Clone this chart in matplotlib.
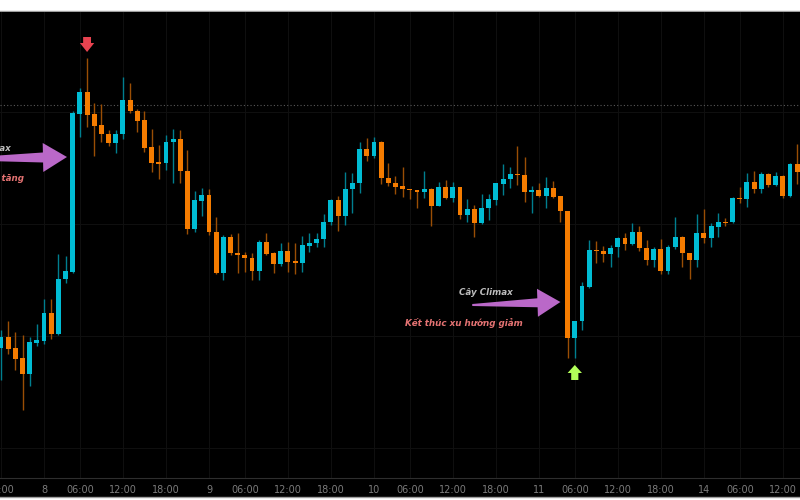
import numpy as np
import matplotlib.pyplot as plt
from matplotlib.patches import Rectangle, Polygon
from matplotlib.transforms import IdentityTransform

# hourly bars, index 0 = first bar of day "8"
first_bar = -6
opens = [152, 163, 152, 142, 126, 157, 159, 187, 166, 221, 228, 386, 408, 386, 375, 366,
         357, 366, 400, 389, 380, 353, 338, 337, 358, 361, 329, 271, 299, 305, 268, 227,
         263, 247, 245, 242, 229, 258, 247, 236, 249, 239, 237, 254, 257, 261, 278, 300,
         284, 311, 317, 351, 344, 358, 322, 317, 314, 311, 310, 308, 311, 294, 313, 302,
         313, 285, 291, 277, 292, 300, 316, 321, 326, 325, 308, 310, 304, 312, 304, 289,
         162, 179, 213, 250, 249, 246, 253, 262, 256, 268, 252, 240, 251, 229, 253, 263,
         247, 240, 267, 262, 273, 278, 278, 302, 301, 318, 311, 326, 315, 324, 304, 336]
highs = [170, 179, 168, 165, 163, 176, 201, 201, 246, 244, 389, 412, 442, 397, 396, 370,
         370, 423, 417, 391, 389, 371, 355, 365, 371, 370, 350, 309, 312, 311, 283, 265,
         266, 267, 248, 247, 260, 267, 248, 257, 258, 257, 264, 267, 267, 286, 301, 304,
         328, 327, 358, 362, 363, 359, 337, 324, 333, 311, 310, 329, 312, 318, 320, 318,
         313, 301, 295, 306, 306, 317, 336, 333, 354, 343, 314, 317, 323, 319, 304, 289,
         179, 218, 260, 259, 254, 255, 263, 267, 277, 274, 260, 253, 261, 255, 283, 264,
         247, 286, 291, 277, 287, 282, 303, 313, 327, 329, 328, 327, 328, 325, 337, 356]
lows = [120, 146, 130, 90, 114, 154, 156, 161, 165, 217, 227, 363, 373, 344, 358, 354,
        347, 361, 387, 368, 348, 328, 321, 330, 317, 317, 266, 268, 284, 265, 226, 220,
        245, 227, 228, 220, 220, 245, 227, 234, 228, 226, 228, 248, 253, 253, 275, 269,
        275, 287, 307, 339, 342, 316, 314, 306, 303, 301, 292, 302, 274, 294, 301, 298,
        281, 278, 263, 276, 280, 295, 305, 312, 315, 298, 287, 303, 292, 302, 278, 142,
        142, 170, 212, 237, 238, 233, 243, 250, 255, 249, 235, 233, 226, 226, 251, 233,
        221, 233, 257, 253, 263, 274, 277, 297, 293, 307, 307, 313, 314, 302, 303, 316]
closes = [163, 151, 141, 126, 158, 160, 187, 166, 221, 229, 387, 408, 385, 374, 366, 357,
          366, 400, 389, 379, 352, 337, 336, 358, 361, 329, 271, 300, 305, 268, 227, 263,
          247, 245, 242, 229, 258, 246, 236, 249, 238, 237, 255, 257, 261, 278, 300, 284,
          311, 317, 351, 344, 358, 322, 317, 313, 311, 310, 308, 311, 294, 313, 302, 313,
          285, 291, 277, 292, 301, 317, 321, 326, 325, 308, 310, 304, 312, 303, 289, 162,
          179, 214, 250, 249, 246, 252, 262, 256, 268, 252, 240, 251, 229, 253, 263, 247,
          240, 267, 262, 274, 278, 277, 302, 301, 318, 311, 326, 315, 324, 304, 336, 328]

tick_pos = [-6, 0, 5, 11, 17, 23, 28, 34, 40, 46, 51, 57, 63, 69, 74, 80, 86, 92, 97, 103]
tick_labels = ['18:00', '8', '06:00', '12:00', '18:00', '9', '06:00', '12:00', '18:00',
               '10', '06:00', '12:00', '18:00', '11', '06:00', '12:00', '18:00', '14',
               '06:00', '12:00']
marker_level = 395

up_col, dn_col = '#00BCD4', '#F57C00'
up_wick, dn_wick = '#007f8f', '#9a4e05'

fig = plt.figure(figsize=(8, 5), dpi=100, facecolor='white')
fig.patches.append(Rectangle((-0.01, 0.006), 1.02, 0.972, transform=fig.transFigure,
                             facecolor='black', edgecolor='#9e9e9e', lw=1, zorder=-1))
ax = fig.add_axes([0, 0.044, 1, 0.932])
ax.set_facecolor('black')

x = np.arange(len(opens)) + first_bar
o, h, l, c = map(np.array, (opens, highs, lows, closes))
up = c >= o
ax.vlines(x[up], l[up], h[up], color=up_wick, lw=1, zorder=2)
ax.vlines(x[~up], l[~up], h[~up], color=dn_wick, lw=1, zorder=2)
body = np.maximum(np.abs(c - o), 1.2)
ax.bar(x[up], body[up], bottom=np.minimum(o, c)[up], width=0.68, color=up_col, zorder=3)
ax.bar(x[~up], body[~up], bottom=np.minimum(o, c)[~up], width=0.68, color=dn_col, zorder=3)

ax.set_xlim(-6.14, 105.4)
ax.set_ylim(22, 488)

# grid
for t in tick_pos:
    ax.axvline(t, color='#0f0f0f', lw=0.8, zorder=0)
for yy in [52, 164, 276, 388]:
    ax.axhline(yy, color='#0f0f0f', lw=0.8, zorder=0)
ax.axhline(marker_level, color='#5a5a5a', lw=0.8, ls=(0, (1, 2)), zorder=1)

ax.set_xticks(tick_pos)
ax.set_xticklabels(tick_labels)
ax.set_yticks([])
ax.tick_params(axis='x', length=0, colors='#7c7c7c', labelsize=7, pad=5)
for s in ['top', 'left', 'right']:
    ax.spines[s].set_visible(False)
ax.spines['bottom'].set_color('#2e2e2e')

# small signal arrows
ax.arrow(6, 463, 0, -15, width=1.1, head_width=2.0, head_length=9,
         length_includes_head=True, color='#E84350', lw=0, zorder=4)
ax.arrow(74, 120, 0, 15, width=1.0, head_width=2.0, head_length=8,
         length_includes_head=True, color='#B2FF59', lw=0, zorder=4)


def taper_arrow(tail, tip, w_tail, w_base, head_w, head_l, color):
    p0 = ax.transData.transform(tail)
    p1 = ax.transData.transform(tip)
    u = (p1 - p0) / np.hypot(*(p1 - p0))
    n = np.array([-u[1], u[0]])
    b = p1 - u * head_l
    pts = [p0 + n * w_tail / 2, b + n * w_base / 2, b + n * head_w / 2, p1,
           b - n * head_w / 2, b - n * w_base / 2, p0 - n * w_tail / 2]
    ax.add_patch(Polygon(pts, closed=True, transform=IdentityTransform(),
                         facecolor=color, edgecolor='none', zorder=5))


purple = '#BA68C8'
taper_arrow((-10.5, 341), (3.2, 343), 3, 10, 29, 24, purple)
taper_arrow((59.7, 195), (72.0, 198), 2, 9, 28, 23, purple)

tkw = dict(fontsize=6.3, fontweight='bold', style='italic', va='center', zorder=6)
ax.text(-4.6, 351, 'Cây Climax', color='#bdbdbd', ha='right', **tkw)
ax.text(-2.8, 322, 'Kết thúc xu hướng tăng', color='#E57373', ha='right', **tkw)
ax.text(61.6, 207, 'Cây Climax', color='#bdbdbd', ha='center', **tkw)
ax.text(58.6, 177, 'Kết thúc xu hướng giảm', color='#E57373', ha='center', **tkw)

fig.savefig('out.png', dpi=100, facecolor='white')
